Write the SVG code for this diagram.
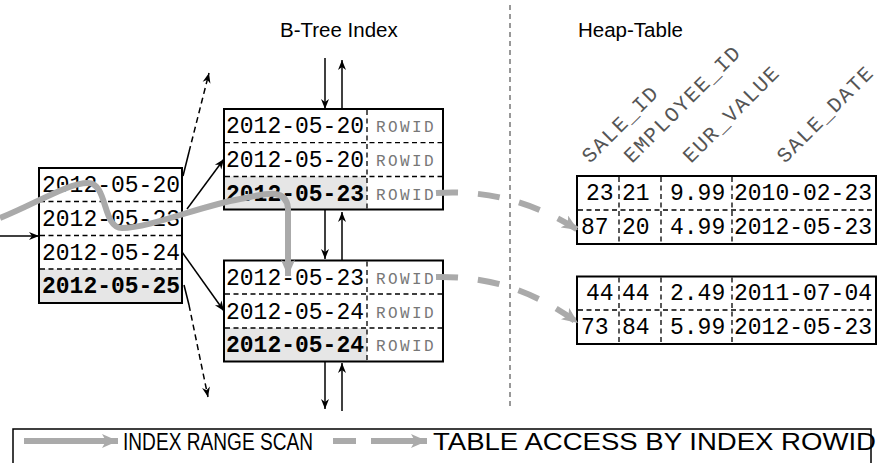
<svg xmlns="http://www.w3.org/2000/svg" width="881" height="463" viewBox="0 0 881 463">
<defs>
<style>
.box{fill:none;stroke:#000;stroke-width:2}
.div{stroke:#000;stroke-width:1.3;stroke-dasharray:5,3.5;fill:none}
.sh{fill:#e6e6e6;stroke:none}
.m{font-family:"Liberation Mono",monospace;font-size:23px;fill:#000}
.b{font-weight:bold}
.rid{font-family:"Liberation Mono",monospace;font-size:16px;letter-spacing:2.4px;fill:#777}
.hdr{font-family:"Liberation Mono",monospace;font-size:21px;letter-spacing:1.6px;fill:#555}
.ttl{font-family:"Liberation Sans",Arial,sans-serif;font-size:20.5px;fill:#000}
.leg{font-family:"Liberation Sans",Arial,sans-serif;font-size:23px;fill:#000}
.ar{stroke:#000;stroke-width:1.5;fill:none}
.ard{stroke:#000;stroke-width:1.5;fill:none;stroke-dasharray:6,4}
.scan{stroke:#aaa;stroke-width:6;fill:none}
.acc{stroke:#aaa;stroke-width:6;fill:none;stroke-dasharray:22,20}
</style>
<marker id="ah" viewBox="0 0 10 10" refX="10" refY="5" markerWidth="10" markerHeight="10" markerUnits="userSpaceOnUse" orient="auto">
<path d="M0,1 L10,5 L0,9 L3,5 Z" fill="#000"/>
</marker>
<marker id="gh" viewBox="0 0 16 14" refX="16" refY="7" markerWidth="16" markerHeight="14" markerUnits="userSpaceOnUse" orient="auto">
<path d="M0,0 L16,7 L0,14 L4,7 Z" fill="#aaa"/>
</marker>
</defs>

<text class="ttl" x="280" y="37">B-Tree Index</text>
<text class="ttl" x="578" y="37">Heap-Table</text>
<line x1="510" y1="5" x2="510" y2="408" stroke="#777" stroke-width="1.5" stroke-dasharray="5,4"/>

<g id="root-node">
<rect class="sh" x="39" y="269" width="143" height="34"/>
<rect class="box" x="39" y="168" width="143" height="135"/>
<line class="div" x1="40" y1="201.5" x2="181" y2="201.5"/>
<line class="div" x1="40" y1="235.5" x2="181" y2="235.5"/>
<line class="div" x1="40" y1="269" x2="181" y2="269"/>
<text class="m" x="42" y="192">2012-05-20</text>
<text class="m" x="42" y="226">2012-05-23</text>
<text class="m" x="42" y="259.5">2012-05-24</text>
<text class="m b" x="42" y="293">2012-05-25</text>
</g>

<g id="leaf-1">
<rect class="sh" x="224" y="176.5" width="143" height="33"/>
<rect class="box" x="224" y="109" width="219" height="100.5"/>
<line class="div" x1="225" y1="142.7" x2="442" y2="142.7"/>
<line class="div" x1="225" y1="176.5" x2="442" y2="176.5"/>
<line class="div" x1="367" y1="110" x2="367" y2="209"/>
<text class="m" x="226" y="133">2012-05-20</text>
<text class="m" x="226" y="167">2012-05-20</text>
<text class="m b" x="226" y="200.5">2012-05-23</text>
<text class="rid" x="376" y="132">ROWID</text>
<text class="rid" x="376" y="166">ROWID</text>
<text class="rid" x="376" y="199.5">ROWID</text>
</g>

<g id="leaf-2">
<rect class="sh" x="224" y="328" width="143" height="33"/>
<rect class="box" x="224" y="260.5" width="219" height="101"/>
<line class="div" x1="225" y1="294" x2="442" y2="294"/>
<line class="div" x1="225" y1="328" x2="442" y2="328"/>
<line class="div" x1="367" y1="261.5" x2="367" y2="360.5"/>
<text class="m" x="226" y="284.5">2012-05-23</text>
<text class="m" x="226" y="318.5">2012-05-24</text>
<text class="m b" x="226" y="351.5">2012-05-24</text>
<text class="rid" x="376" y="283.5">ROWID</text>
<text class="rid" x="376" y="317.5">ROWID</text>
<text class="rid" x="376" y="350.5">ROWID</text>
</g>

<g id="table-headers">
<text class="hdr" transform="translate(590,164) rotate(-45)">SALE_ID</text>
<text class="hdr" transform="translate(632,164) rotate(-45)">EMPLOYEE_ID</text>
<text class="hdr" transform="translate(691,164) rotate(-45)">EUR_VALUE</text>
<text class="hdr" transform="translate(785,164) rotate(-45)">SALE_DATE</text>
</g>

<g id="heap-block-1">
<rect class="box" x="577" y="176" width="299" height="68"/>
<line class="div" x1="578" y1="210" x2="875" y2="210"/>
<line class="div" x1="619" y1="177" x2="619" y2="243"/>
<line class="div" x1="661" y1="177" x2="661" y2="243"/>
<line class="div" x1="732" y1="177" x2="732" y2="243"/>
<text class="m" x="586" y="200">23</text>
<text class="m" x="622" y="200">21</text>
<text class="m" x="670" y="200">9.99</text>
<text class="m" x="734" y="200">2010-02-23</text>
<text class="m" x="581" y="233.5">87</text>
<text class="m" x="622" y="233.5">20</text>
<text class="m" x="670" y="233.5">4.99</text>
<text class="m" x="734" y="233.5">2012-05-23</text>
</g>

<g id="heap-block-2">
<rect class="box" x="577" y="276.5" width="299" height="67.5"/>
<line class="div" x1="578" y1="310" x2="875" y2="310"/>
<line class="div" x1="619" y1="277.5" x2="619" y2="343"/>
<line class="div" x1="661" y1="277.5" x2="661" y2="343"/>
<line class="div" x1="732" y1="277.5" x2="732" y2="343"/>
<text class="m" x="586" y="300">44</text>
<text class="m" x="622" y="300">44</text>
<text class="m" x="670" y="300">2.49</text>
<text class="m" x="734" y="300">2011-07-04</text>
<text class="m" x="581" y="333.5">73</text>
<text class="m" x="622" y="333.5">84</text>
<text class="m" x="670" y="333.5">5.99</text>
<text class="m" x="734" y="333.5">2012-05-23</text>
</g>

<g id="connectors">
<line class="ar" x1="0" y1="236" x2="39" y2="236" marker-end="url(#ah)"/>
<path class="ar" d="M183,176 L189,152"/>
<path class="ard" d="M189,152 L209,73" marker-end="url(#ah)"/>
<line class="ar" x1="187" y1="209" x2="224" y2="159" marker-end="url(#ah)"/>
<line class="ar" x1="182" y1="252" x2="224" y2="311" marker-end="url(#ah)"/>
<path class="ar" d="M184,285 L189,305"/>
<path class="ard" d="M189,305 L208,397" marker-end="url(#ah)"/>
<line class="ar" x1="325" y1="58" x2="325" y2="109" marker-end="url(#ah)"/>
<line class="ar" x1="342" y1="109" x2="342" y2="60" marker-end="url(#ah)"/>
<line class="ar" x1="325" y1="209.5" x2="325" y2="259" marker-end="url(#ah)"/>
<line class="ar" x1="342" y1="260.5" x2="342" y2="212" marker-end="url(#ah)"/>
<line class="ar" x1="325" y1="361.5" x2="325" y2="409" marker-end="url(#ah)"/>
<line class="ar" x1="342" y1="411" x2="342" y2="363" marker-end="url(#ah)"/>
<path class="scan" d="M0,218 C35,204 68,183 88,183 C108,183 102,228 122,228 C150,228 200,206 240,199 C262,195 286,186 288,208 L288,276" marker-end="url(#gh)"/>
<path class="acc" d="M436,193 C485,190 530,200 578,230" marker-end="url(#gh)"/>
<path class="acc" d="M436,277 C485,276 530,288 578,323" marker-end="url(#gh)"/>
</g>

<g id="legend">
<rect x="13" y="429" width="858" height="40" fill="none" stroke="#000" stroke-width="1.5"/>
<line class="scan" x1="24" y1="441" x2="118" y2="441" marker-end="url(#gh)"/>
<text class="leg" x="123" y="450" textLength="190" lengthAdjust="spacingAndGlyphs">INDEX RANGE SCAN</text>
<path d="M333,441 L356,441 M371,441 L410,441" stroke="#aaa" stroke-width="6" fill="none"/>
<line x1="408" y1="441" x2="427" y2="441" stroke="#aaa" stroke-width="6" marker-end="url(#gh)"/>
<text class="leg" x="433" y="450" textLength="443" lengthAdjust="spacingAndGlyphs">TABLE ACCESS BY INDEX ROWID</text>
</g>
</svg>
